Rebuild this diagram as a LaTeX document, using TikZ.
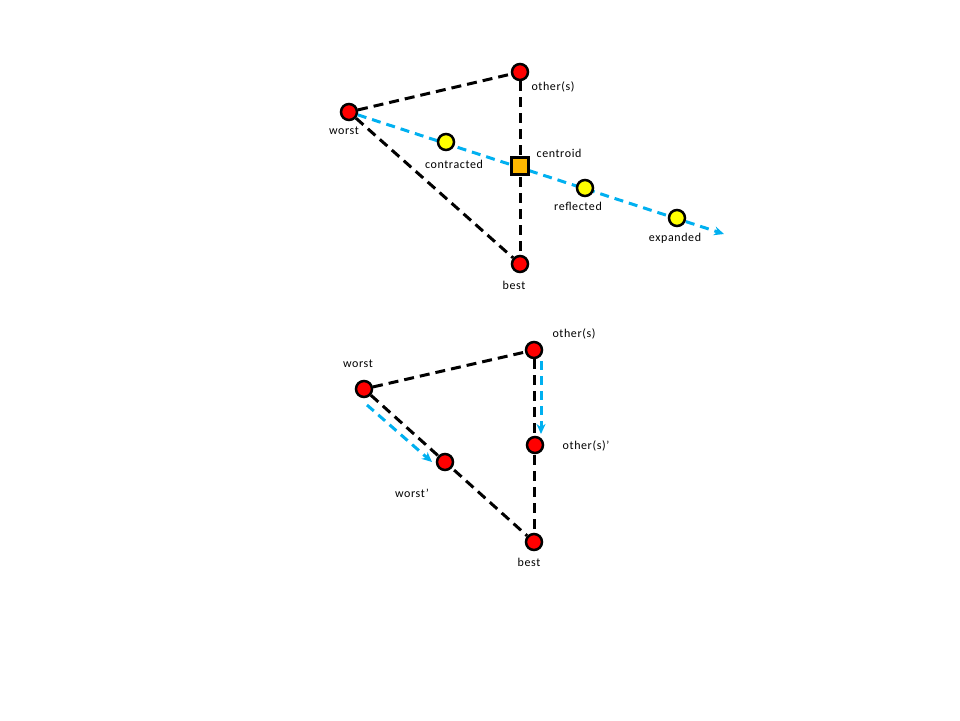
\documentclass[tikz,border=0pt]{standalone}
\usepackage{fontspec}
\setmainfont[LetterSpace=5]{Carlito}
\usetikzlibrary{arrows.meta}
\definecolor{bl}{RGB}{0,176,240}
\definecolor{rd}{RGB}{255,0,0}
\definecolor{yl}{RGB}{255,255,0}
\definecolor{og}{RGB}{255,184,0}
\begin{document}
\begin{tikzpicture}[x=1pt,y=-1pt,
  pt/.style={circle,draw=black,line width=2.5pt,minimum size=16pt,inner sep=0pt},
  redpt/.style={pt,fill=rd},
  yelpt/.style={pt,fill=yl},
  sq/.style={rectangle,draw=black,line width=2.5pt,fill=og,minimum size=17pt,inner sep=0pt},
  edge/.style={line width=3pt,dash pattern=on 10pt off 6pt},
  move/.style={line width=3pt,color=bl,dash pattern=on 9pt off 6pt,-{Stealth[length=10pt,width=9pt]}},
  lbl/.style={font=\fontsize{12}{14}\selectfont,inner sep=0pt}]
\path[use as bounding box] (0,0) rectangle (960,720);
% top
\node[redpt] (w) at (349,112) {};
\node[redpt] (o) at (520,72) {};
\node[redpt] (b) at (520,264) {};
\coordinate (aend) at (724,234);
\draw[move] (w) -- (aend);
\draw[edge] (w) -- (o);
\draw[edge] (w) -- (b);
\draw[edge] (o) -- (b);
\node[sq] (c) at (520,166) {};
\node[yelpt] (ct) at (446,142) {};
\node[yelpt] (rf) at (585,188) {};
\node[yelpt] (ex) at (677,218) {};
\node[lbl] (lw) at (344,131) {worst};
\node[lbl] (lo) at (553,87) {other(s)};
\node[lbl] (lc) at (559,153) {centroid};
\node[lbl] (lct) at (454,164) {contracted};
\node[lbl] (lrf) at (578,206) {reflected};
\node[lbl] (lex) at (675,238) {expanded};
\node[lbl] (lb) at (514,285) {best};
% bottom
\node[redpt] (w2) at (364,389) {};
\node[redpt] (o2) at (534,350) {};
\node[redpt] (b2) at (534,542) {};
\draw[edge] (w2) -- (o2);
\draw[edge] (w2) -- (b2);
\draw[edge] (o2) -- (b2);
\node[redpt] (op) at (535,445) {};
\node[redpt] (wp) at (445,462) {};
\coordinate (s1) at (367,405);
\coordinate (e1) at (432,462);
\coordinate (s2) at (541,361);
\coordinate (e2) at (541,434);
\draw[move] (s1) -- (e1);
\draw[move] (s2) -- (e2);
\node[lbl] (lw2) at (358,364) {worst};
\node[lbl] (lo2) at (574,334) {other(s)};
\node[lbl] (lop) at (586,446) {other(s)’};
\node[lbl] (lwp) at (412,493) {worst’};
\node[lbl] (lb2) at (529,562) {best};
\end{tikzpicture}
\end{document}
